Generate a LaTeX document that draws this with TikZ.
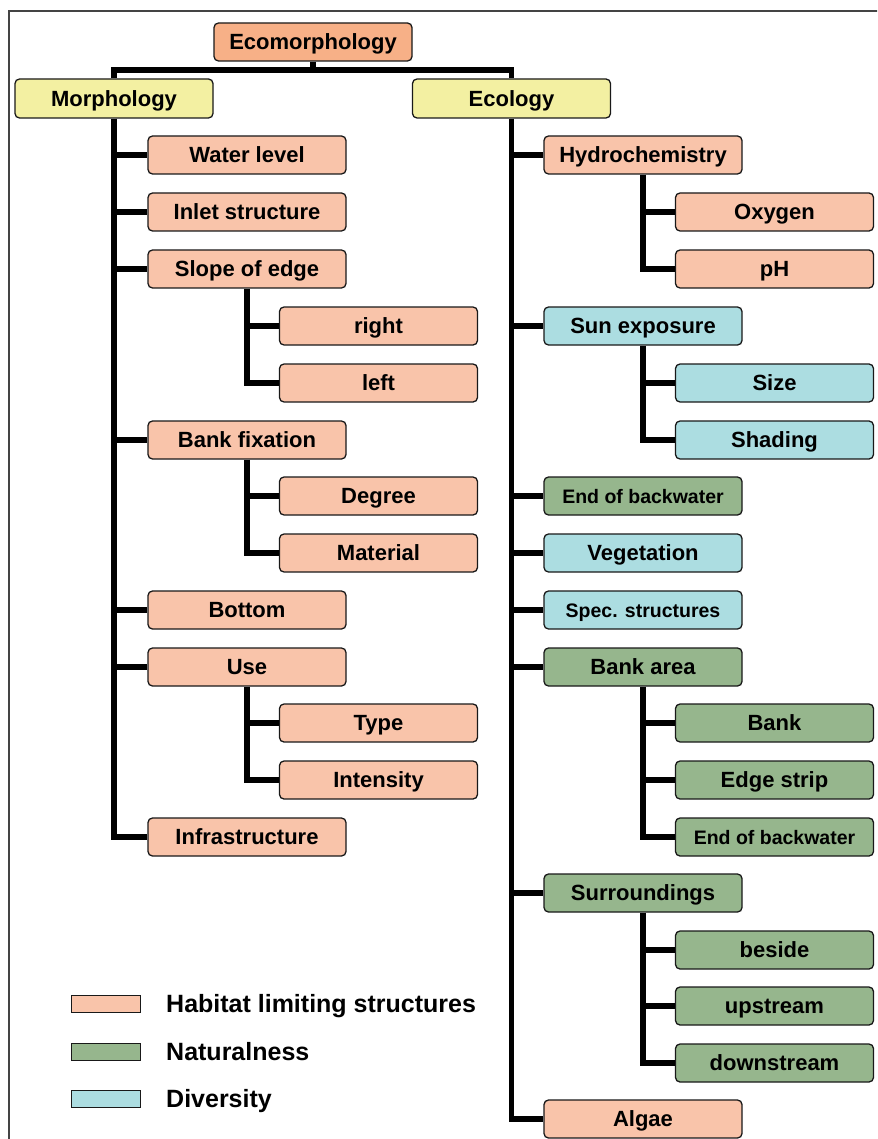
\documentclass[tikz,border=0pt]{standalone}
\usepackage{fontspec}
\setmainfont{Liberation Sans}
\definecolor{ecoC}{HTML}{F7B087}
\definecolor{yelC}{HTML}{F3F0A2}
\definecolor{pinkC}{HTML}{F9C4AA}
\definecolor{greenC}{HTML}{96B68D}
\definecolor{blueC}{HTML}{ACDDE1}
\definecolor{frameC}{HTML}{444444}
\begin{document}
\begin{tikzpicture}[x=1pt,y=-1pt,
  box/.style={draw=black!90, line width=1.3pt, rounded corners=4.5pt,
    minimum width=198pt, minimum height=38pt, inner sep=0pt,
    font=\bfseries\fontsize{22}{24}\selectfont, text height=15.7pt, text depth=0pt},
  smalltxt/.style={font=\bfseries\fontsize{19.5}{22}\selectfont, text height=14pt},
  pk/.style={box, fill=pinkC},
  gr/.style={box, fill=greenC},
  bl/.style={box, fill=blueC},
  ye/.style={box, fill=yelC, minimum height=39pt},
  conn/.style={line width=5.5pt, black, line join=miter},
  legbox/.style={draw=black!90, line width=1.5pt, minimum width=69pt, minimum height=17pt, inner sep=0pt},
  legtxt/.style={anchor=west, inner sep=0pt, font=\bfseries\fontsize{25}{28}\selectfont, text height=17.9pt, text depth=0pt}
]
\useasboundingbox (0,0) rectangle (877,1139);
\clip (0,0) rectangle (877,1139);
% frame
\draw[frameC, line width=2pt] (8.5,1200) -- (8.5,11.5) -- (920,11.5);

% top
\node[box, fill=ecoC] (eco) at (313,42) {Ecomorphology};
\node[ye] (morph) at (114,98.5) {Morphology};
\node[ye] (ecol) at (511.5,98.5) {Ecology};

% left column
\node[pk] (water) at (247,155) {Water level};
\node[pk] (inlet) at (247,212) {Inlet structure};
\node[pk] (slope) at (247,269) {Slope of edge};
\node[pk] (right) at (378.5,326) {right};
\node[pk] (leftn) at (378.5,383) {left};
\node[pk] (bankfix) at (247,440) {Bank fixation};
\node[pk] (degree) at (378.5,496) {Degree};
\node[pk] (material) at (378.5,553) {Material};
\node[pk] (bottom) at (247,610) {Bottom};
\node[pk] (use) at (247,667) {Use};
\node[pk] (type) at (378.5,723) {Type};
\node[pk] (intensity) at (378.5,780) {Intensity};
\node[pk] (infra) at (247,837) {Infrastructure};

% right column
\node[pk] (hydro) at (643,155) {Hydrochemistry};
\node[pk] (oxygen) at (774.5,212) {Oxygen};
\node[pk] (ph) at (774.5,269) {pH};
\node[bl] (sun) at (643,326) {Sun exposure};
\node[bl] (size) at (774.5,383) {Size};
\node[bl] (shading) at (774.5,440) {Shading};
\node[gr, smalltxt] (endb) at (643,496) {End of backwater};
\node[bl] (veg) at (643,553) {Vegetation};
\node[bl, smalltxt] (spec) at (643,610) {Spec. structures};
\node[gr] (bankarea) at (643,667) {Bank area};
\node[gr] (bank) at (774.5,723) {Bank};
\node[gr] (edge) at (774.5,780) {Edge strip};
\node[gr, smalltxt] (endbb) at (774.5,837) {End of backwater};
\node[gr] (surr) at (643,893) {Surroundings};
\node[gr] (beside) at (774.5,950) {beside};
\node[gr] (up) at (774.5,1006) {upstream};
\node[gr] (down) at (774.5,1063) {downstream};
\node[pk] (algae) at (643,1119) {Algae};

% connectors: top bracket
\coordinate (bar) at (313,70);
\draw[conn] (eco.south) -- (bar);
\draw[conn] (morph.north) |- (bar) -| (ecol.north);

% left stems
\draw[conn] (morph.south) |- (infra.west);
\foreach \n in {water,inlet,slope,bankfix,bottom,use}
  \draw[conn] (morph.south |- \n.west) -- (\n.west);
\draw[conn] (slope.south) |- (leftn.west);
\draw[conn] (slope.south |- right.west) -- (right.west);
\draw[conn] (bankfix.south) |- (material.west);
\draw[conn] (bankfix.south |- degree.west) -- (degree.west);
\draw[conn] (use.south) |- (intensity.west);
\draw[conn] (use.south |- type.west) -- (type.west);

% right stems
\draw[conn] (ecol.south) |- (algae.west);
\foreach \n in {hydro,sun,endb,veg,spec,bankarea,surr}
  \draw[conn] (ecol.south |- \n.west) -- (\n.west);
\draw[conn] (hydro.south) |- (ph.west);
\draw[conn] (hydro.south |- oxygen.west) -- (oxygen.west);
\draw[conn] (sun.south) |- (shading.west);
\draw[conn] (sun.south |- size.west) -- (size.west);
\draw[conn] (bankarea.south) |- (endbb.west);
\foreach \n in {bank,edge}
  \draw[conn] (bankarea.south |- \n.west) -- (\n.west);
\draw[conn] (surr.south) |- (down.west);
\foreach \n in {beside,up}
  \draw[conn] (surr.south |- \n.west) -- (\n.west);

% legend
\node[legbox, fill=pinkC] (lg1) at (106,1004) {};
\node[legbox, fill=greenC] (lg2) at (106,1052) {};
\node[legbox, fill=blueC] (lg3) at (106,1099) {};
\node[legtxt] (lt1) at (166,1004) {Habitat limiting structures};
\node[legtxt] (lt2) at (166,1052) {Naturalness};
\node[legtxt] (lt3) at (166,1099) {Diversity};
\end{tikzpicture}
\end{document}
